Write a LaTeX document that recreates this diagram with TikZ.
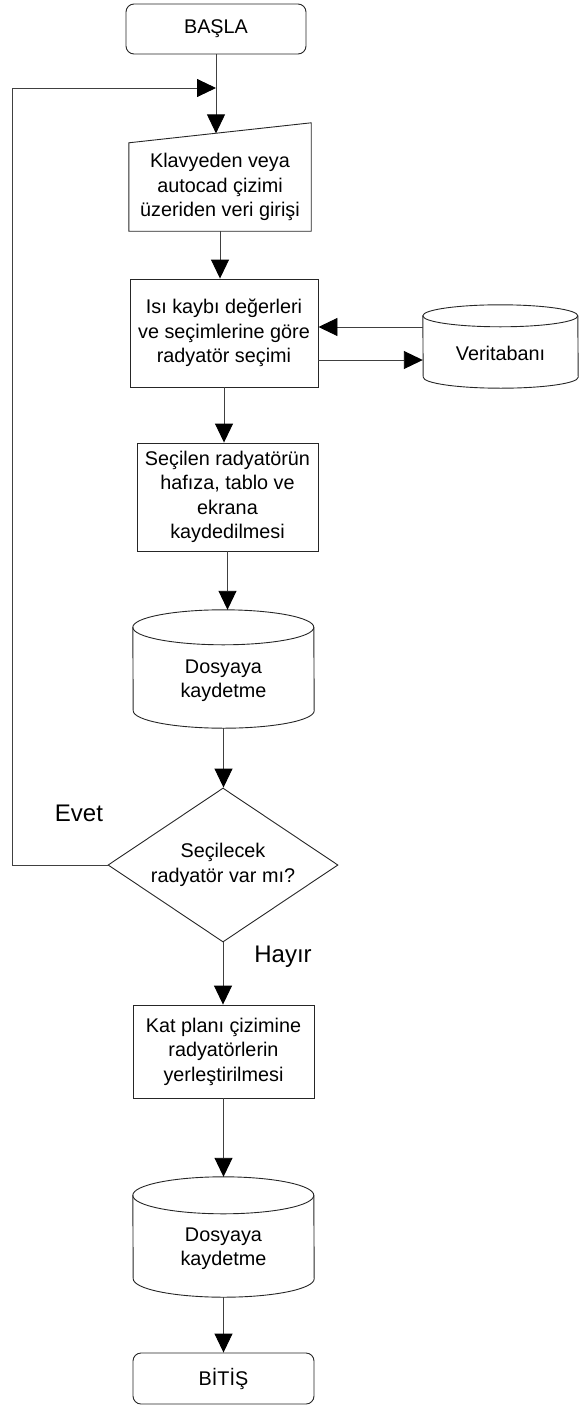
\documentclass[tikz,border=0pt]{standalone}
\usepackage{fontspec}
\setmainfont{Liberation Sans}
\usetikzlibrary{shapes.geometric,arrows.meta,calc}

\tikzset{
  shp/.style={draw=black!85, line width=0.9pt},
  boxtext/.style={font=\fontsize{19.8}{24.5}\selectfont, align=center, text=black},
  procbox/.style={shp, boxtext, rectangle, inner sep=0pt},
  termbox/.style={procbox, rounded corners=8pt},
  drum/.style={boxtext, rectangle, inner sep=0pt},
  decbox/.style={shp, boxtext, diamond, inner sep=0pt, aspect=1.49},
  branch/.style={font=\fontsize{24}{28}\selectfont, text=black},
  link/.style={draw=black!75, line width=0.9pt},
  arr/.style={link, -{Triangle[length=19pt,width=18pt,color=black,fill=black]}},
}

% outline of a storage drum around a rectangular node: #1 node, #2 x radius, #3 y radius
\newcommand\drumshape[3]{%
  \draw[shp] ([yshift=-#3pt]#1.north west)
      arc[start angle=180,end angle=0,x radius=#2pt,y radius=#3pt]
      -- ([yshift=#3pt]#1.south east)
      arc[start angle=0,end angle=-180,x radius=#2pt,y radius=#3pt] -- cycle;
  \draw[shp] ([yshift=-#3pt]#1.north west)
      arc[start angle=180,end angle=360,x radius=#2pt,y radius=#3pt];
}

\begin{document}
\begin{tikzpicture}[x=1pt,y=1pt]
\useasboundingbox (0,0) rectangle (580,-1405);

% terminals and process steps
\node[termbox, minimum width=180pt, minimum height=50pt] (start) at (216,-29) {BAŞLA};

\node[boxtext, rectangle, inner sep=0pt, minimum width=182pt, minimum height=88pt]
  (inp) at (220,-187) {Klavyeden veya\\autocad çizimi\\üzeriden veri girişi};
\draw[shp] (inp.south west) -- (inp.north west) -- ([yshift=20pt]inp.north east)
  -- (inp.south east) -- cycle;
\coordinate (inpTop) at (216,-133.4);
\coordinate (loopJoin) at (216,-88);
\coordinate (loopCorner) at (12,-88);

\node[procbox, minimum width=188pt, minimum height=108pt] (sel) at (224,-333)
  {Isı kaybı değerleri\\ve seçimlerine göre\\radyatör seçimi};

\node[drum, minimum width=155pt, minimum height=83pt] (db) at (500.5,-346.5) {};
\drumshape{db}{77.5}{11}
\node[boxtext] (dbt) at ([yshift=-6.5pt]db.center) {Veritabanı};

\node[procbox, minimum width=181pt, minimum height=108pt] (save) at (227.5,-497)
  {Seçilen radyatörün\\hafıza, tablo ve\\ekrana\\kaydedilmesi};

\node[drum, minimum width=181pt, minimum height=118pt] (file1) at (223.5,-669) {};
\drumshape{file1}{90.5}{17.5}
\node[boxtext] (file1t) at ([yshift=-11.5pt]file1.center) {Dosyaya\\kaydetme};

\node[decbox, minimum width=230pt, minimum height=154pt] (dec) at (223,-865)
  {Seçilecek\\radyatör var mı?};

\node[procbox, minimum width=181pt, minimum height=93pt] (place) at (223.5,-1051.5)
  {Kat planı çizimine\\radyatörlerin\\yerleştirilmesi};

\node[drum, minimum width=181pt, minimum height=120pt] (file2) at (223.5,-1237) {};
\drumshape{file2}{90.5}{18.5}
\node[boxtext] (file2t) at ([yshift=-11.5pt]file2.center) {Dosyaya\\kaydetme};

\node[termbox, minimum width=181pt, minimum height=51pt] (stop) at (223.5,-1378.5) {BİTİŞ};

% branch labels
\node[branch] (yes) at (79,-813) {Evet};
\node[branch] (no) at (283,-957) {Hayır};

% connectors
\draw[arr] (start.south) -- (inpTop);
\draw[arr] (dec.west) -| (loopCorner) -- (loopJoin);
\draw[arr] (inp.south) -- (inp.south |- sel.north);
\draw[arr] ([yshift=19.5pt]db.west) -- ([yshift=19.5pt]db.west -| sel.east);
\draw[arr] ([yshift=-13.5pt]db.west -| sel.east) -- ([yshift=-13.5pt]db.west);
\draw[arr] (sel.south) -- (sel.south |- save.north);
\draw[arr] (save.south) -- (save.south |- file1.north);
\draw[arr] (file1.south) -- (file1.south |- dec.north);
\draw[arr] (dec.south) -- (dec.south |- place.north);
\draw[arr] (place.south) -- (place.south |- file2.north);
\draw[arr] (file2.south) -- (file2.south |- stop.north);
\end{tikzpicture}
\end{document}
